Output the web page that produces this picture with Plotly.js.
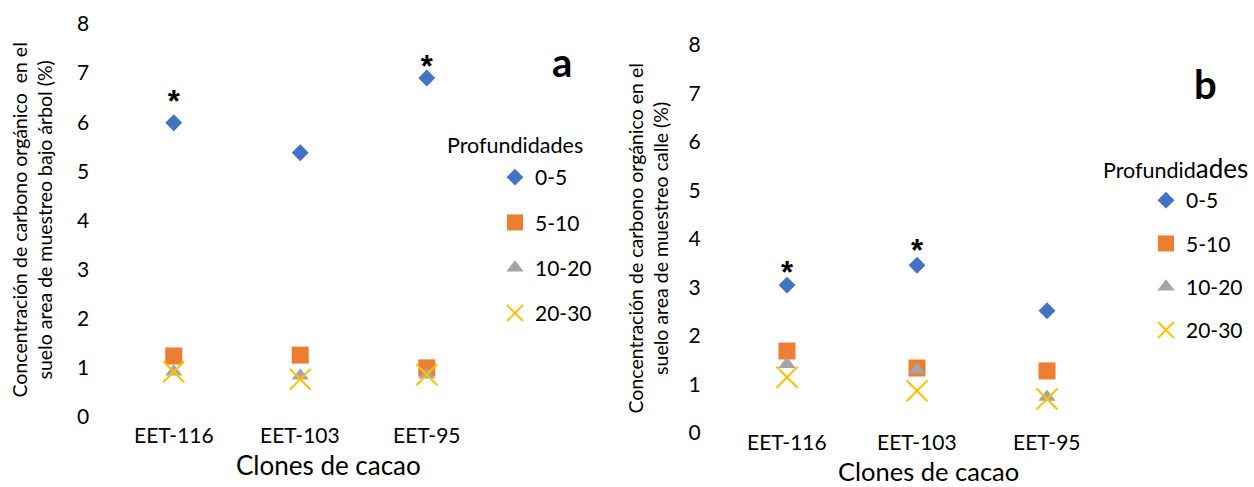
<!DOCTYPE html>
<html>
<head>
<meta charset="utf-8">
<script src="https://cdn.plot.ly/plotly-3.0.1.min.js"></script>
<style>html,body{margin:0;padding:0;background:#fff;}#chart{width:1254px;height:487px;}</style>
</head>
<body>
<div id="chart"></div>
<script>
// ---- data ----
const clones = ['EET-116', 'EET-103', 'EET-95'];
const depths = ['0-5', '5-10', '10-20', '20-30'];

// (a) muestreo bajo árbol
const a_0_5   = [5.99, 5.38, 6.90];
const a_5_10  = [1.24, 1.26, 1.00];
const a_10_20 = [0.92, 0.84, 0.86];
const a_20_30 = [0.92, 0.77, 0.86];
const a_starClones = ['EET-116', 'EET-95'];
const a_starY = [6.36, 7.07];

// (b) muestreo calle
const b_0_5   = [3.05, 3.46, 2.52];
const b_5_10  = [1.69, 1.34, 1.28];
const b_10_20 = [1.42, 1.30, 0.74];
const b_20_30 = [1.15, 0.87, 0.70];
const b_starClones = ['EET-116', 'EET-103'];
const b_starY = [3.26, 3.70];

const yTicks = [0, 1, 2, 3, 4, 5, 6, 7, 8];

// ---- styles ----
const FONT = 'Lato, "Open Sans", sans-serif';
const colors = ['#4472C4', '#ED7D31', '#A5A5A5', '#FFC000'];
const markerDefs = [
  {symbol: 'diamond', size: 13, color: colors[0]},
  {symbol: 'square', size: 17, color: colors[1]},
  {symbol: 'triangle-up', size: 15, color: colors[2]},
  {symbol: 'x-thin', size: 21, color: colors[3], line: {color: colors[3], width: 2}}
];

function series(vals, i, xa, ya, leg) {
  const m = Object.assign({}, markerDefs[i]);
  return {
    type: 'scatter', mode: 'markers', x: clones, y: vals,
    name: depths[i], xaxis: xa, yaxis: ya, legend: leg,
    legendgroup: leg + i, marker: m, hoverinfo: 'x+y+name'
  };
}

const aSeries = [a_0_5, a_5_10, a_10_20, a_20_30];
const bSeries = [b_0_5, b_5_10, b_10_20, b_20_30];
const traces = [];
aSeries.forEach((v, i) => traces.push(series(v, i, 'x', 'y', 'legend')));
bSeries.forEach((v, i) => traces.push(series(v, i, 'x2', 'y2', 'legend2')));
const starFont = {family: 'Liberation Sans, Arial, sans-serif', size: 31, color: '#000', weight: 'bold'};
traces.push({type: 'scatter', mode: 'text', x: a_starClones, y: a_starY, text: a_starClones.map(() => '*'),
  textfont: starFont, xaxis: 'x', yaxis: 'y', showlegend: false, hoverinfo: 'skip'});
traces.push({type: 'scatter', mode: 'text', x: b_starClones, y: b_starY, text: b_starClones.map(() => '*'),
  textfont: starFont, xaxis: 'x2', yaxis: 'y2', showlegend: false, hoverinfo: 'skip'});

const W = 1254, H = 487;
const px = v => v / W, py = v => 1 - v / H;

const xCommon = {type: 'category', range: [-0.5, 2.5], showgrid: false, zeroline: false, showline: false,
  showticklabels: false, ticks: ''};
const yCommon = {range: [0, 8], tickvals: yTicks, showgrid: false, zeroline: false, showline: false,
  ticks: 'outside', tickcolor: 'rgba(0,0,0,0)', ticklen: 16, tickfont: {family: FONT, size: 21, color: '#000'}};

const legendCommon = {font: {family: FONT, size: 21, color: '#000'}, bgcolor: 'rgba(0,0,0,0)',
  traceorder: 'grouped', xanchor: 'left', yanchor: 'top', itemclick: false};

// category tick labels drawn on the category positions
const tickAnn = [];
clones.forEach(c => {
  tickAnn.push({text: c, xref: 'x', yref: 'paper', x: c, y: py(434), showarrow: false,
    font: {family: FONT, size: 21, color: '#000'}, xanchor: 'center', yanchor: 'middle', borderpad: 0});
  tickAnn.push({text: c, xref: 'x2', yref: 'paper', x: c, y: py(441), showarrow: false,
    font: {family: FONT, size: 21, color: '#000'}, xanchor: 'center', yanchor: 'middle', borderpad: 0});
});

const layout = {
  width: W, height: H, margin: {l: 0, r: 0, t: 0, b: 0},
  paper_bgcolor: '#fff', plot_bgcolor: '#fff',
  font: {family: FONT, color: '#000'},
  xaxis: Object.assign({}, xCommon, {domain: [px(110.5), px(490)], anchor: 'y'}),
  yaxis: Object.assign({}, yCommon, {domain: [py(417), py(24)], anchor: 'x'}),
  xaxis2: Object.assign({}, xCommon, {domain: [px(722), px(1112)], anchor: 'y2'}),
  yaxis2: Object.assign({}, yCommon, {domain: [py(433), py(45)], anchor: 'x2'}),
  legend: Object.assign({}, legendCommon, {x: px(495), y: py(157), tracegroupgap: 15}),
  legend2: Object.assign({}, legendCommon, {x: px(1146), y: py(180), tracegroupgap: 13}),
  annotations: tickAnn.concat([
    {text: 'Concentración de carbono orgánico  en el<br>suelo area de muestreo bajo árbol (%)',
     xref: 'paper', yref: 'paper', x: px(31.5), y: py(220), textangle: -90, showarrow: false,
     font: {family: FONT, size: 19.5, color: '#000'}, xanchor: 'center', yanchor: 'middle'},
    {text: 'Concentración de carbono orgánico en el<br>suelo area de muestreo calle (%)',
     xref: 'paper', yref: 'paper', x: px(647.5), y: py(239), textangle: -90, showarrow: false,
     font: {family: FONT, size: 19.5, color: '#000'}, xanchor: 'center', yanchor: 'middle'},
    {text: 'Clones de cacao', xref: 'paper', yref: 'paper', x: px(328), y: py(465), showarrow: false,
     font: {family: FONT, size: 26, color: '#000'}, xanchor: 'center', yanchor: 'middle'},
    {text: 'Clones de cacao', xref: 'paper', yref: 'paper', x: px(928), y: 0, showarrow: false,
     font: {family: FONT, size: 25.5, color: '#000'}, xanchor: 'center', yanchor: 'bottom', borderpad: 0},
    {text: '<b>a</b>', xref: 'paper', yref: 'paper', x: px(562), y: py(62), showarrow: false,
     font: {family: FONT, size: 40, color: '#000'}, xanchor: 'center', yanchor: 'middle'},
    {text: '<b>b</b>', xref: 'paper', yref: 'paper', x: px(1205), y: py(84), showarrow: false,
     font: {family: FONT, size: 40, color: '#000'}, xanchor: 'center', yanchor: 'middle'},
    {text: 'Profundidades', xref: 'paper', yref: 'paper', x: px(445), y: py(145), showarrow: false,
     font: {family: FONT, size: 21.5, color: '#000'}, xanchor: 'left', yanchor: 'middle'},
    {text: 'Profundid<span style="font-size:26px">ades</span>', xref: 'paper', yref: 'paper', x: px(1101), y: py(168), showarrow: false,
     font: {family: FONT, size: 21.5, color: '#000'}, xanchor: 'left', yanchor: 'middle'}
  ])
};

Plotly.newPlot('chart', traces, layout, {staticPlot: true});
</script>
</body>
</html>
